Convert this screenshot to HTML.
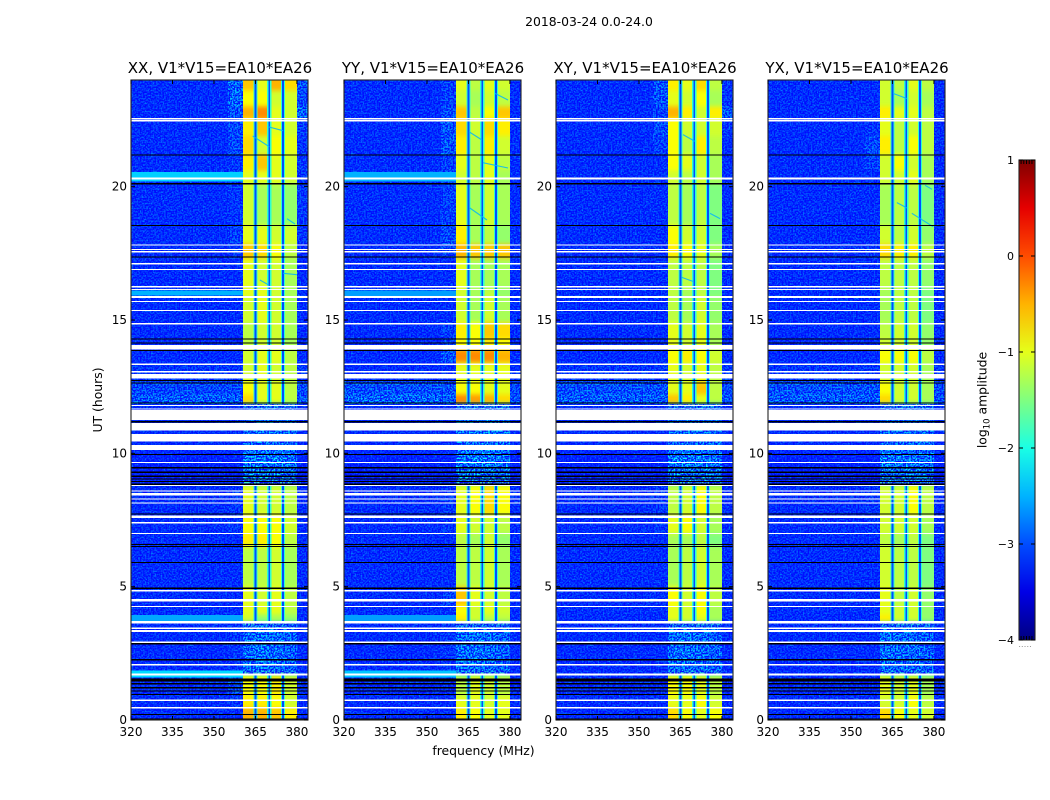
<!DOCTYPE html>
<html lang="en">
<head>
<meta charset="utf-8">
<title>2018-03-24 0.0-24.0</title>
<style>
html,body{margin:0;padding:0;background:#fff;width:1050px;height:800px;overflow:hidden}
svg{display:block}
text{font-family:"DejaVu Sans","Liberation Sans",sans-serif;fill:#000}
</style>
</head>
<body>
<svg id="figure" xmlns="http://www.w3.org/2000/svg" width="1050" height="800" viewBox="0 0 1050 800">
  <defs id="figure-defs">
    <filter id="grain-light" x="0" y="0" width="100%" height="100%" color-interpolation-filters="sRGB">
      <feTurbulence type="fractalNoise" baseFrequency="0.62" numOctaves="1" seed="4"/>
      <feColorMatrix type="matrix" values="0 0 0 0 0  0 0 0 0 0.5  0 0 0 0 1  4.5 0 0 0 -2.35"/>
    </filter>
    <filter id="grain-dark" x="0" y="0" width="100%" height="100%" color-interpolation-filters="sRGB">
      <feTurbulence type="fractalNoise" baseFrequency="0.62" numOctaves="1" seed="11"/>
      <feColorMatrix type="matrix" values="0 0 0 0 0  0 0 0 0 0.04  0 0 0 0 1  4.5 0 0 0 -1.7"/>
    </filter>
    <filter id="row-blur" x="0" y="-5%" width="100%" height="110%" color-interpolation-filters="sRGB">
      <feGaussianBlur stdDeviation="0 2.5"/>
    </filter>
    <pattern id="grain" patternUnits="userSpaceOnUse" width="200" height="200">
      <rect width="200" height="200" filter="url(#grain-light)"/>
      <rect width="200" height="200" filter="url(#grain-dark)"/>
    </pattern>
    <linearGradient id="jet-gradient" x1="0" y1="1" x2="0" y2="0"></linearGradient>
  </defs>
  <text x="589" y="26" font-size="12.4" text-anchor="middle">2018-03-24 0.0-24.0</text>
  <text transform="translate(102,400) rotate(-90)" font-size="12.4" text-anchor="middle">UT (hours)</text>
  <text x="483.5" y="755" font-size="12.4" text-anchor="middle">frequency (MHz)</text>
  <text transform="translate(986.5,400) rotate(-90)" font-size="12.4" text-anchor="middle">log<tspan font-size="8.5" dy="3">10</tspan><tspan dy="-3"> amplitude</tspan></text>
</svg>
<script>
// ---- chart data ----
const panelTitles = ['XX, V1*V15=EA10*EA26', 'YY, V1*V15=EA10*EA26', 'XY, V1*V15=EA10*EA26', 'YX, V1*V15=EA10*EA26'];
const xTicks = [320, 335, 350, 365, 380];
const yTicks = [0, 5, 10, 15, 20];
const cbTicks = [1, 0, -1, -2, -3, -4];
const cbTickLabels = ['1', '0', '\u22121', '\u22122', '\u22123', '\u22124'];
const freqEdges = [320, 355, 360.5, 365, 370, 375, 380, 384];
const subbandGaps = [365, 370, 375];
const gapLevels = [-3.0, -3.0, -3.0];
const gapHaloLevels = [-1.9, -1.9, -1.9];
const timeEdges = [24, 23.6, 23, 22.55, 21.9, 21.2, 20.6, 20.1, 18.55, 17.85, 17.3, 16.2, 15.9, 14.9, 14.3, 13.9, 13.4, 12.7, 12.2, 11.85, 10, 8.85, 7.7, 7, 6.5, 5, 4.3, 3.95, 3.65, 1.7, 0.9, 0.45, 0];

// log10 amplitude per time segment: background, shoulder, four sub-bands, upper edge
const levelsXX = [
[-3.0,-2.4,-0.6,-1.0,-0.5,-0.7,-2.6],[-3.0,-2.4,-0.9,-0.9,-1.1,-1.1,-2.7],[-3.0,-2.6,-0.5,-0.3,-1.0,-1.1,-2.4],
[-3.0,-2.7,-0.8,-0.6,-1.0,-1.1,-2.8],[-3.0,-2.7,-0.7,-1.1,-0.9,-1.0,-2.9],[-3.0,-2.9,-0.8,-0.6,-1.0,-1.1,-2.9],
[-3.0,-2.9,-1.0,-1.0,-1.0,-1.1,-2.9],[-3.0,-2.9,-1.1,-1.3,-1.3,-1.4,-2.9],[-3.0,-2.8,-1.0,-1.0,-1.1,-1.1,-2.9],
[-3.0,-2.9,-0.6,-0.7,-0.9,-1.2,-3.0],[-3.0,-3.0,-1.0,-1.1,-1.1,-1.3,-3.0],[-3.0,-3.0,-1.0,-1.0,-1.1,-1.3,-3.0],
[-3.0,-3.0,-1.1,-1.0,-1.1,-1.3,-3.0],[-3.0,-3.0,-1.2,-1.1,-1.1,-1.3,-3.0],[-3.0,-3.0,-1.2,-1.1,-1.1,-1.3,-3.0],
[-3.0,-3.0,-1.1,-1.0,-1.0,-1.2,-3.0],[-2.9,-2.9,-1.1,-1.0,-1.1,-1.2,-2.9],[-2.7,-2.7,-0.9,-1.0,-1.0,-1.2,-2.7],
[-2.5,-2.5,-0.7,-1.0,-1.0,-1.2,-2.6],[-3.0,-3.0,-2.4,-2.35,-2.35,-2.4,-3.0],[-3.1,-3.1,-2.2,-2.2,-2.2,-2.3,-3.1],
[-3.0,-2.9,-1.0,-1.1,-1.1,-1.2,-3.0],[-3.0,-2.9,-0.9,-0.9,-0.9,-1.1,-3.0],[-3.0,-3.0,-0.8,-0.8,-0.9,-1.2,-3.0],
[-3.0,-3.0,-1.2,-1.2,-1.1,-1.3,-3.0],[-3.0,-3.0,-1.0,-1.1,-1.0,-1.2,-3.0],[-3.0,-3.0,-1.0,-1.0,-1.0,-1.2,-3.0],
[-3.0,-3.0,-1.1,-1.4,-1.3,-1.4,-3.0],[-3.0,-2.9,-2.35,-2.3,-2.35,-2.45,-3.0],[-3.0,-2.7,-0.9,-0.9,-0.8,-1.1,-3.0],
[-3.0,-2.9,-0.8,-0.8,-0.9,-1.1,-3.0],[-3.0,-3.0,-0.5,-0.5,-0.6,-0.8,-3.0]];
const levelsYY = [
[-3.0,-2.8,-1.0,-1.2,-1.0,-1.1,-3.0],[-3.0,-2.8,-1.1,-1.3,-1.1,-1.2,-3.0],[-3.0,-2.7,-0.6,-1.2,-0.9,-0.6,-3.0],
[-3.0,-2.6,-0.7,-1.1,-0.7,-0.8,-3.0],[-3.0,-2.6,-0.8,-1.2,-0.8,-1.1,-3.0],[-3.0,-2.8,-1.0,-1.2,-1.0,-1.2,-3.0],
[-3.0,-2.8,-1.1,-1.2,-1.0,-1.3,-3.0],[-3.0,-2.8,-1.0,-1.3,-1.1,-1.3,-3.0],[-3.0,-2.7,-0.8,-1.3,-1.2,-1.4,-3.0],
[-3.0,-2.8,-0.5,-0.6,-0.6,-0.6,-3.0],[-3.0,-3.0,-1.0,-1.3,-1.3,-1.3,-3.0],[-3.0,-3.0,-1.1,-1.3,-1.2,-1.4,-3.0],
[-3.0,-3.0,-1.1,-1.3,-1.1,-1.3,-3.0],[-3.0,-2.8,-0.8,-0.9,-0.6,-0.7,-3.0],[-3.0,-2.8,-0.9,-0.9,-0.8,-0.9,-3.0],
[-3.0,-2.6,-0.3,-0.3,-0.3,-0.5,-3.0],[-3.0,-3.0,-1.0,-1.0,-1.0,-1.0,-3.0],[-2.6,-2.6,-0.9,-0.9,-1.0,-1.0,-2.7],
[-2.4,-2.5,-0.3,-0.4,-0.5,-0.7,-2.6],[-3.0,-3.0,-2.35,-2.3,-2.2,-2.3,-3.0],[-3.1,-3.1,-2.2,-2.2,-2.2,-2.3,-3.1],
[-3.0,-2.9,-1.0,-0.9,-0.7,-0.9,-3.0],[-3.0,-2.9,-1.0,-1.1,-1.1,-1.2,-3.0],[-3.0,-3.0,-1.2,-1.3,-1.1,-1.4,-3.0],
[-3.0,-3.0,-1.2,-1.2,-1.1,-1.3,-3.0],[-3.0,-2.8,-0.6,-1.0,-1.1,-1.2,-3.0],[-3.0,-3.0,-0.9,-1.1,-1.0,-1.1,-3.0],
[-3.0,-3.0,-0.8,-1.1,-1.2,-1.2,-3.0],[-3.0,-2.9,-2.35,-2.3,-2.35,-2.45,-3.0],[-3.0,-3.0,-1.2,-1.0,-1.1,-1.2,-3.0],
[-3.0,-3.0,-1.0,-1.0,-1.1,-1.0,-3.0],[-3.0,-3.0,-0.8,-0.9,-1.0,-1.0,-3.0]];
const levelsXY = [
[-3.0,-2.6,-0.8,-1.0,-0.7,-1.2,-2.9],[-3.0,-2.6,-1.0,-1.1,-0.9,-1.3,-2.9],[-3.0,-2.8,-0.5,-0.8,-1.1,-0.8,-2.6],
[-3.0,-2.7,-0.9,-1.1,-1.1,-1.1,-2.9],[-3.0,-2.8,-0.9,-1.2,-0.8,-1.2,-3.0],[-3.0,-3.0,-0.9,-1.0,-1.1,-1.3,-3.0],
[-3.0,-3.0,-1.1,-1.2,-1.1,-1.3,-3.0],[-3.0,-3.0,-1.2,-1.3,-1.2,-1.5,-3.0],[-3.0,-3.0,-0.9,-1.1,-1.1,-1.5,-3.0],
[-3.0,-3.0,-0.8,-0.9,-1.0,-1.3,-3.0],[-3.0,-3.0,-1.2,-1.2,-1.2,-1.5,-3.0],[-3.0,-3.0,-1.2,-1.3,-1.2,-1.5,-3.0],
[-3.0,-3.0,-1.2,-1.3,-1.1,-1.4,-3.0],[-3.0,-3.0,-1.0,-1.1,-1.0,-1.3,-3.0],[-3.0,-3.0,-1.0,-1.1,-1.0,-1.3,-3.0],
[-3.0,-3.0,-0.9,-0.8,-0.9,-1.1,-3.0],[-2.9,-2.9,-1.0,-1.1,-1.0,-1.2,-2.9],[-2.6,-2.6,-1.0,-1.0,-0.6,-1.2,-2.7],
[-2.5,-2.5,-0.6,-0.8,-1.0,-1.2,-2.6],[-3.0,-3.0,-2.4,-2.35,-2.35,-2.4,-3.0],[-3.1,-3.1,-2.2,-2.2,-2.2,-2.3,-3.1],
[-3.0,-2.9,-1.2,-1.1,-0.9,-1.2,-3.0],[-3.0,-2.9,-1.0,-0.9,-1.1,-1.3,-3.0],[-3.0,-3.0,-1.3,-1.3,-1.2,-1.5,-3.0],
[-3.0,-3.0,-1.3,-1.2,-1.1,-1.3,-3.0],[-3.0,-3.0,-0.9,-1.1,-0.9,-1.2,-3.0],[-3.0,-3.0,-1.0,-1.1,-0.9,-1.3,-3.0],
[-3.0,-3.0,-1.0,-1.1,-1.0,-1.3,-3.0],[-3.0,-3.0,-2.35,-2.3,-2.35,-2.45,-3.0],[-3.0,-3.0,-0.9,-0.9,-1.0,-1.2,-3.0],
[-3.0,-3.0,-1.0,-1.0,-0.9,-1.1,-3.0],[-3.0,-3.0,-0.7,-0.9,-1.0,-0.9,-3.0]];
const levelsYX = [
[-3.0,-3.0,-1.1,-1.2,-1.0,-1.2,-3.0],[-3.0,-3.0,-1.1,-1.3,-1.1,-1.3,-3.0],[-3.0,-3.0,-0.8,-1.0,-1.0,-1.2,-3.0],
[-3.0,-2.9,-1.0,-1.2,-1.1,-1.2,-3.0],[-3.0,-2.7,-0.8,-1.2,-0.9,-1.2,-3.0],[-3.0,-2.8,-1.1,-0.9,-1.1,-1.3,-3.0],
[-3.0,-3.0,-1.1,-1.1,-1.0,-1.3,-3.0],[-3.0,-3.0,-1.3,-1.2,-1.2,-1.5,-3.0],[-3.0,-3.0,-1.1,-1.2,-1.1,-1.4,-3.0],
[-3.0,-2.9,-0.7,-0.8,-0.8,-1.2,-3.0],[-3.0,-3.0,-1.2,-1.2,-1.2,-1.4,-3.0],[-3.0,-3.0,-1.3,-1.2,-1.2,-1.5,-3.0],
[-3.0,-3.0,-1.3,-1.2,-1.2,-1.5,-3.0],[-3.0,-3.0,-1.2,-1.1,-1.1,-1.4,-3.0],[-3.0,-3.0,-1.1,-1.1,-1.1,-1.4,-3.0],
[-3.0,-3.0,-0.9,-0.9,-0.9,-1.2,-3.0],[-2.9,-2.9,-1.1,-1.1,-1.1,-1.3,-2.9],[-2.6,-2.6,-0.9,-1.1,-1.1,-1.3,-2.7],
[-2.5,-2.5,-0.7,-1.1,-1.1,-1.3,-2.6],[-3.0,-3.0,-2.4,-2.4,-2.4,-2.4,-3.0],[-3.1,-3.1,-2.2,-2.25,-2.25,-2.3,-3.1],
[-3.0,-2.9,-1.1,-1.1,-0.9,-1.2,-3.0],[-3.0,-2.9,-1.1,-1.1,-1.1,-1.3,-3.0],[-3.0,-3.0,-1.2,-1.3,-1.2,-1.5,-3.0],
[-3.0,-3.0,-1.1,-1.2,-1.2,-1.5,-3.0],[-3.0,-3.0,-1.0,-1.2,-1.1,-1.4,-3.0],[-3.0,-3.0,-1.0,-1.1,-1.1,-1.4,-3.0],
[-3.0,-3.0,-0.8,-1.1,-1.1,-1.4,-3.0],[-3.0,-3.0,-2.3,-2.35,-2.35,-2.45,-3.0],[-3.0,-3.0,-1.0,-1.1,-1.0,-1.3,-3.0],
[-3.0,-3.0,-1.1,-1.1,-0.9,-1.2,-3.0],[-3.0,-3.0,-0.7,-0.9,-1.0,-1.1,-3.0]];

// bright broadband rows: panel index, start hour, end hour, log10 amplitude
const broadbandRows = [[0,20.55,20.2,-2.35],[0,16.1,15.92,-2.5],[0,3.94,3.72,-2.55],[0,1.85,1.6,-2.3],[1,20.55,20.2,-2.5],[1,16.1,15.9,-2.6],[1,3.94,3.72,-2.6],[1,1.85,1.6,-2.4]];

// faint diagonal features: panel index, start frequency, start hour, end frequency, end hour
const streaks = [[0,364,21.9,370,21.5],[0,369.5,22.25,375,22.1],[0,376.4,18.8,379.3,18.6],[0,366.6,16.5,370,16.3],[0,375,16.75,380,16.7],
[1,365.2,22.06,369.9,21.75],[1,374.6,23.5,379.3,23.25],[1,370.2,20.9,379.3,20.7],[1,365.5,19.2,371.7,18.75],
[2,365.9,21.95,370.3,21.7],[2,375.7,19,379.3,18.8],[2,365.5,16.6,369.5,16.45],
[3,365.2,23.5,370.3,23.3],[3,372,19,379.7,18.5],[3,376.8,20.05,379.3,19.9],[3,366.6,19.4,370.3,19.2]];

// flagged (no data) time ranges, hours
const whiteFlags = [[22.57,22.52],[22.5,22.45],[20.34,20.26],[17.84,17.79],[17.67,17.62],[17.59,17.54],[17.14,17.09],[16.92,16.87],[16.27,16.22],[16.17,16.12],[15.9,15.82],[15.72,15.67],[15.38,15.33],[14.89,14.84],[14.07,13.9],[13.36,13.31],[13.08,13.03],[12.98,12.8],[11.82,11.78],[11.69,11.65],[11.62,11.25],[11.14,10.85],[10.73,10.44],[10.31,10.13],[9.68,9.63],[8.82,8.77],[8.61,8.56],[8.52,8.42],[8.31,8.26],[8.16,8.11],[7.67,7.58],[7.42,7.37],[7.02,6.97],[4.87,4.82],[4.54,4.44],[4.28,4.23],[3.72,3.62],[3.46,3.41],[3.38,3.3],[2.94,2.89],[2.1,2.05],[1.75,1.66],[0.76,0.71],[0.49,0.44]];
const blackFlags = [[21.21,21.17],[20.13,20.09],[18.56,18.52],[17.38,17.34],[14.31,14.27],[14.16,14.12],[13.87,13.83],[12.75,12.71],[12.66,12.62],[11.9,11.86],[11.22,11.15],[9.98,9.94],[9.48,9.44],[9.31,9.27],[9.16,9.12],[9.06,9.02],[8.96,8.92],[8.86,8.82],[7.75,7.71],[6.6,6.56],[6.52,6.48],[5.93,5.89],[4.96,4.92],[2.88,2.84],[2.28,2.24],[1.56,1.44],[1.38,1.34],[1.23,1.19],[1.11,1.07],[0.98,0.94],[0.22,0.18],[0.05,0.0]];

// ---- scales ----
const panelLefts = [131, 344, 556, 768];
const plotWidth = 177, plotTop = 80, plotBottom = 720;
const panelLevels = [levelsXX, levelsYY, levelsXY, levelsYX];
const xScale = (f, left) => left + (f - 320) / 64 * plotWidth;
const yScale = (h) => plotBottom - h / 24 * (plotBottom - plotTop);
const cbTop = 160, cbBottom = 640, cbLeft = 1019, cbRight = 1035;
const cbScale = (v) => cbBottom - (v + 4) / 5 * (cbBottom - cbTop);

function jet(level) {
  const t = Math.max(0, Math.min(1, (level + 4) / 5));
  const ch = (c) => Math.round(255 * Math.max(0, Math.min(1, 1.5 - Math.abs(4 * t - c))));
  return 'rgb(' + ch(3) + ',' + ch(2) + ',' + ch(1) + ')';
}
const svg = document.getElementById('figure');
const defs = document.getElementById('figure-defs');
const NS = 'http://www.w3.org/2000/svg';
function mk(tag, props, parent) {
  const e = document.createElementNS(NS, tag);
  for (const k in props) e.setAttribute(k, props[k]);
  (parent || svg).appendChild(e);
  return e;
}
function band(parent, left, f0, f1, h0, h1, fill) {
  return mk('rect', {
    x: xScale(f0, left), y: yScale(h0),
    width: xScale(f1, left) - xScale(f0, left),
    height: yScale(h1) - yScale(h0), fill: fill, 'shape-rendering': 'crispEdges'
  }, parent);
}

panelLefts.forEach(function (left, p) {
  const axes = mk('g', {});
  
  

  const clip = mk('clipPath', { id: 'plot-clip-' + p }, defs);
  mk('rect', { x: left, y: plotTop, width: plotWidth, height: plotBottom - plotTop }, clip);
  const clipped = mk('g', { 'clip-path': 'url(#plot-clip-' + p + ')' }, axes);
  
  
  const sharpLayer = mk('g', {}, clipped);
  const softLayer = mk('g', { filter: 'url(#row-blur)' }, clipped);
  const grainLayer = mk('g', {}, clipped);

  const levels = panelLevels[p];
  levels.forEach(function (row, r) {
    row.forEach(function (value, c) {
      const isSubband = c >= 2 && c <= 5;
      const hi = (r === 0 && isSubband) ? 25 : timeEdges[r];
      const lo = (r === levels.length - 1 && isSubband) ? -1 : timeEdges[r + 1];
      const cell = band(isSubband ? softLayer : sharpLayer, left, freqEdges[c], freqEdges[c + 1], hi, lo, jet(value));
      
      
      if (value < -1.7) {
        const noise = band(grainLayer, left, freqEdges[c], freqEdges[c + 1], timeEdges[r], timeEdges[r + 1], 'url(#grain)');
        
        
      }
    });
    subbandGaps.forEach(function (g, i) {
      if (row[3] > -1.7) {
        const halo = band(grainLayer, left, g - 0.75, g + 0.75, timeEdges[r], timeEdges[r + 1], jet(gapHaloLevels[i]));
        
        
        const gap = band(grainLayer, left, g - 0.35, g + 0.35, timeEdges[r], timeEdges[r + 1], jet(gapLevels[i]));
        
        
      }
    });
  });

  streaks.filter(function (s) { return s[0] === p; }).forEach(function (s) {
    const streak = mk('line', {
      x1: xScale(s[1], left), y1: yScale(s[2]), x2: xScale(s[3], left), y2: yScale(s[4]),
      stroke: jet(-2.5), 'stroke-width': 1.1, 'stroke-opacity': 0.85
    }, clipped);
    
    
  });

  broadbandRows.filter(function (b) { return b[0] === p; }).forEach(function (b) {
    const rowBand = band(clipped, left, 320, 360.5, b[1], b[2], jet(b[3]));
    
    
  });

  whiteFlags.forEach(function (w) {
    const flag = band(clipped, left, 320, 384, w[0], w[1], '#fff');
    
    
  });
  blackFlags.forEach(function (b) {
    const flag = band(clipped, left, 320, 384, b[0], b[1], '#000');
    
    
  });

  const frame = mk('rect', { x: left, y: plotTop, width: plotWidth, height: plotBottom - plotTop, fill: 'none', stroke: '#222', 'stroke-width': 1.1 }, axes);
  
  

  xTicks.forEach(function (f) {
    const x = xScale(f, left);
    const t1 = mk('line', { x1: x, x2: x, y1: plotBottom, y2: plotBottom - 4, stroke: '#000' }, axes);
    
    
    const t2 = mk('line', { x1: x, x2: x, y1: plotTop, y2: plotTop + 4, stroke: '#000' }, axes);
    
    
    const label = mk('text', { x: x, y: 736, 'font-size': 12, 'text-anchor': 'middle' }, axes);
    label.textContent = String(f);
    
    
  });
  yTicks.forEach(function (h) {
    const y = yScale(h);
    const t1 = mk('line', { x1: left, x2: left + 4, y1: y, y2: y, stroke: '#000' }, axes);
    
    
    const t2 = mk('line', { x1: left + plotWidth, x2: left + plotWidth - 4, y1: y, y2: y, stroke: '#000' }, axes);
    
    
    const label = mk('text', { x: left - 4, y: y + 4, 'font-size': 12, 'text-anchor': 'end' }, axes);
    label.textContent = String(h);
    
    
  });
  const title = mk('text', { x: left + plotWidth / 2 + 0.5, y: 73, 'font-size': 15, 'text-anchor': 'middle' }, axes);
  title.textContent = panelTitles[p];
  
  
});

// ---- colorbar ----
const gradient = document.getElementById('jet-gradient');
const gradientSteps = [-4, -3.5, -3, -2.5, -2, -1.5, -1, -0.5, 0, 0.5, 1];
gradientSteps.forEach(function (v) {
  mk('stop', { offset: (v + 4) / 5, 'stop-color': jet(v) }, gradient);
});
const cb = mk('g', {});


const cbBar = mk('rect', { x: cbLeft, y: cbTop, width: cbRight - cbLeft, height: cbBottom - cbTop, fill: 'url(#jet-gradient)', stroke: '#222', 'stroke-width': 1.1 }, cb);


cbTicks.forEach(function (v, i) {
  const y = cbScale(v);
  const t1 = mk('line', { x1: cbLeft, x2: cbLeft + 4, y1: y, y2: y, stroke: '#000' }, cb);
  
  
  const t2 = mk('line', { x1: cbRight, x2: cbRight - 4, y1: y, y2: y, stroke: '#000' }, cb);
  
  
  const label = mk('text', { x: cbLeft - 5, y: y + 4, 'font-size': 11, 'text-anchor': 'end' }, cb);
  label.textContent = cbTickLabels[i];
  
  
});
const cbMinorTicks = [0.13, 0.3, 0.47, 0.64, 0.81];
cbMinorTicks.forEach(function (fraction) {
  const x = cbLeft + fraction * (cbRight - cbLeft);
  const top = mk('line', { x1: x, x2: x, y1: cbTop, y2: cbTop + 4, stroke: '#000' }, cb);
  
  
  const bottom = mk('line', { x1: x, x2: x, y1: cbBottom, y2: cbBottom - 4, stroke: '#000' }, cb);
  
  
  const dot = mk('rect', { x: x - 2, y: 646, width: 1, height: 1, fill: '#999' }, cb);
  
  
});
</script>
</body>
</html>
